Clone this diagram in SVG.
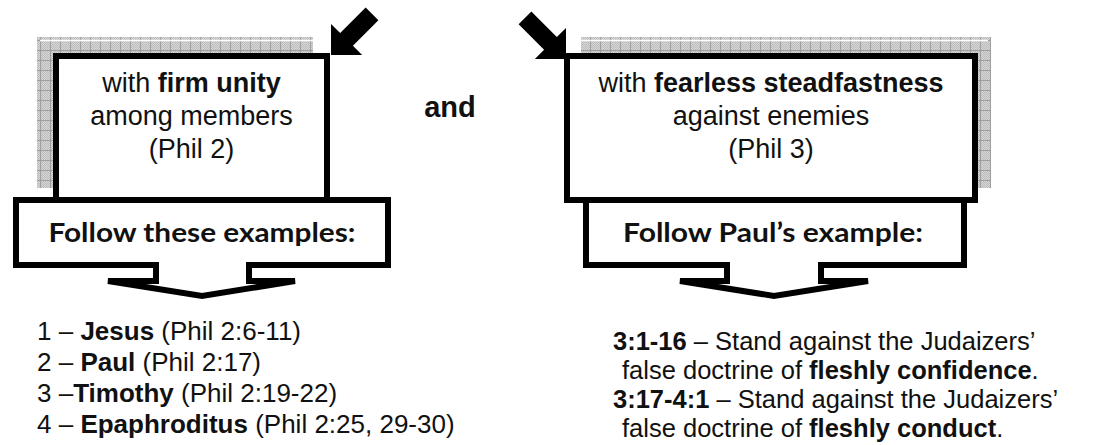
<svg xmlns="http://www.w3.org/2000/svg" width="1095" height="445" viewBox="0 0 1095 445">
<defs>
<style>
.box{fill:#fff;stroke:#000;stroke-width:6}
.callout{fill:#fff;stroke:#000;stroke-width:6;stroke-linejoin:miter}
.txt{font-family:"Liberation Sans",Arial,sans-serif;font-size:27px;fill:#111}
.list{font-family:"Liberation Sans",Arial,sans-serif;font-size:26px;fill:#111}
.listr{font-family:"Liberation Sans",Arial,sans-serif;font-size:25.5px;fill:#111}
.b{font-weight:bold}
.ctxt{font-family:Lato,"Open Sans",sans-serif;font-weight:bold;font-size:27px;fill:#111}
.arrow{fill:#000}
.hl{stroke:#fff;stroke-width:1.5}
</style>
<pattern id="dots" width="2" height="2" patternUnits="userSpaceOnUse">
<rect width="2" height="2" fill="#d6d6d6"/>
<rect width="1" height="1" fill="#bcbcbc"/>
<rect x="1" y="1" width="1" height="1" fill="#bcbcbc"/>
</pattern>
<pattern id="grid" width="10" height="10" patternUnits="userSpaceOnUse">
<path d="M0,0.5H10M0.5,0V10" stroke="#9e9e9e" stroke-width="1" fill="none"/>
</pattern>
</defs>

<g id="box-left">
<rect x="37" y="37" width="276" height="151" fill="url(#dots)"/>
<rect x="37" y="37" width="276" height="151" fill="url(#grid)"/>
<line class="hl" x1="40" y1="40.5" x2="313" y2="40.5"/>
<rect class="box" x="56" y="56" width="271" height="144"/>
<text class="txt" text-anchor="middle" xml:space="preserve"><tspan x="191.5" y="92">with <tspan class="b">firm unity</tspan></tspan><tspan x="191.5" y="125">among members</tspan><tspan x="191.5" y="158">(Phil 2)</tspan></text>
</g>

<g id="box-right">
<rect x="581" y="37" width="410" height="151" fill="url(#dots)"/>
<rect x="581" y="37" width="410" height="151" fill="url(#grid)"/>
<line class="hl" x1="581" y1="40.5" x2="988" y2="40.5"/>
<rect class="box" x="567" y="56" width="408" height="144"/>
<text class="txt" text-anchor="middle" xml:space="preserve"><tspan x="771" y="92">with <tspan class="b">fearless steadfastness</tspan></tspan><tspan x="771" y="125">against enemies</tspan><tspan x="771" y="158">(Phil 3)</tspan></text>
</g>

<g id="label-and">
<text class="txt b" x="450" y="117" text-anchor="middle" style="font-size:29px">and</text>
</g>

<g id="callout-left">
<path class="callout" d="M16,200H388V265H249V281H295L202,296L108,281H156V265H16Z"/>
<text class="ctxt" x="202" y="242" text-anchor="middle" textLength="307" lengthAdjust="spacingAndGlyphs">Follow these examples:</text>
</g>

<g id="callout-right">
<path class="callout" d="M586,200H964V265H821V281H868L774,296L680,281H727V265H586Z"/>
<text class="ctxt" x="773" y="242" text-anchor="middle" textLength="300" lengthAdjust="spacingAndGlyphs">Follow Paul’s example:</text>
</g>

<g id="connectors">
<polygon class="arrow" transform="translate(331,55) rotate(135)" points="-58,-9 -22,-9 -22,-22 0,0 -22,22 -22,9 -58,9"/>
<polygon class="arrow" transform="translate(566,59) rotate(45)" points="-58,-9 -22,-9 -22,-22 0,0 -22,22 -22,9 -58,9"/>
</g>

<g id="list-left">
<text class="list" xml:space="preserve"><tspan x="37" y="340">1 – <tspan class="b">Jesus</tspan> (Phil 2:6-11)</tspan><tspan x="37" y="371">2 – <tspan class="b">Paul</tspan> (Phil 2:17)</tspan><tspan x="37" y="402">3 –<tspan class="b">Timothy</tspan> (Phil 2:19-22)</tspan><tspan x="37" y="433">4 – <tspan class="b">Epaphroditus</tspan> (Phil 2:25, 29-30)</tspan></text>
</g>

<g id="list-right">
<text class="listr" xml:space="preserve"><tspan x="613" y="350"><tspan class="b">3:1-16</tspan> – Stand against the Judaizers’</tspan><tspan x="622" y="379">false doctrine of <tspan class="b">fleshly confidence</tspan>.</tspan><tspan x="613" y="408"><tspan class="b">3:17-4:1</tspan> – Stand against the Judaizers’</tspan><tspan x="622" y="437">false doctrine of <tspan class="b">fleshly conduct</tspan>.</tspan></text>
</g>
</svg>
